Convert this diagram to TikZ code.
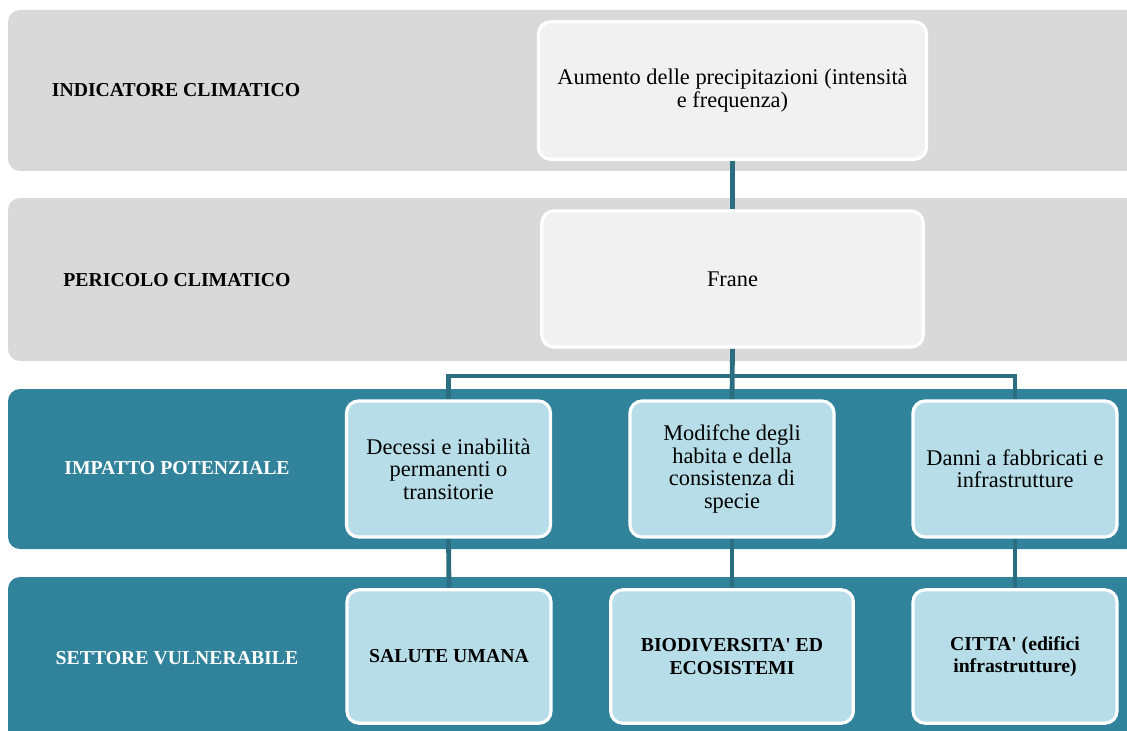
\documentclass[tikz,border=0pt]{standalone}
\usepackage{fontspec}
\setmainfont{Liberation Serif}
\usetikzlibrary{backgrounds}
\definecolor{bandgray}{HTML}{D9D9D9}
\definecolor{boxgray}{HTML}{F1F1F1}
\definecolor{bandteal}{HTML}{31829B}
\definecolor{boxblue}{HTML}{B7DEE8}
\definecolor{linkteal}{HTML}{2C6E81}
\tikzset{
  band/.style={rounded corners=9pt},
  graybox/.style={draw=white, line width=2.4pt, fill=boxgray, rounded corners=9pt,
     align=center, font=\fontsize{16.8}{16.8}\selectfont, inner sep=0pt},
  bluebox/.style={draw=white, line width=2.4pt, fill=boxblue, rounded corners=9pt,
     align=center, font=\fontsize{16.8}{16.8}\selectfont, inner sep=0pt},
  sectbox/.style={bluebox, font=\bfseries\fontsize{14.8}{16.8}\selectfont},
  rowlabel/.style={font=\bfseries\fontsize{14.8}{16.8}\selectfont, anchor=center},
  link/.style={draw=linkteal, line width=3.6pt}
}
\begin{document}
\begin{tikzpicture}[x=0.75pt,y=-0.75pt]
\clip (0,0) rectangle (1127,731);
\useasboundingbox (0,0) rectangle (1127,731);
% bands
\begin{scope}[on background layer]
\fill[bandgray, band] (8,10) rectangle (1160,171);
\fill[bandgray, band] (8,198) rectangle (1160,361);
\fill[bandteal, band] (8,389) rectangle (1160,549);
\fill[bandteal, band] (8,577) rectangle (1160,760);
\end{scope}
% row labels
\node[rowlabel] (l1) at (176,90) {INDICATORE CLIMATICO};
\node[rowlabel] (l2) at (177,280) {PERICOLO CLIMATICO};
\node[rowlabel, text=white] (l3) at (177,468) {IMPATTO POTENZIALE};
\node[rowlabel, text=white] (l4) at (177,658) {SETTORE VULNERABILE};
% boxes
\node[graybox, minimum width=291pt, minimum height=103pt] (ind) at (732.5,90.5)
  {Aumento delle precipitazioni (intensità\\e frequenza)};
\node[graybox, minimum width=286pt, minimum height=102pt] (per) at (732.5,279)
  {Frane};
\node[bluebox, minimum width=153pt, minimum height=102pt] (ia) at (448.5,469)
  {Decessi e inabilità\\permanenti o\\transitorie};
\node[bluebox, minimum width=153pt, minimum height=102pt] (ib) at (732,469)
  {Modifche degli\\habita e della\\consistenza di\\specie};
\node[bluebox, minimum width=153pt, minimum height=102pt] (ic) at (1015,469)
  {Danni a fabbricati e\\infrastrutture};
\node[sectbox, minimum width=153pt, minimum height=100pt] (sa) at (449,656.5)
  {SALUTE UMANA};
\node[sectbox, minimum width=182pt, minimum height=100pt] (sb) at (732,656.5)
  {BIODIVERSITA\textquotesingle{} ED\\ECOSISTEMI};
\node[sectbox, minimum width=153pt, minimum height=100pt] (sc) at (1015,656.5)
  {CITTA\textquotesingle{} (edifici\\infrastrutture)};
% connectors
\begin{scope}[on background layer]
\draw[link] (ind.south) -- (per.north);
\draw[link] (per.south) -- (ib.north);
\draw[link] (ia.north) |- (ic.north |- 0,376) -- (ic.north);
\draw[link] (ia.south) -- (sa.north);
\draw[link] (ib.south) -- (sb.north);
\draw[link] (ic.south) -- (sc.north);
\end{scope}
\end{tikzpicture}
\end{document}
